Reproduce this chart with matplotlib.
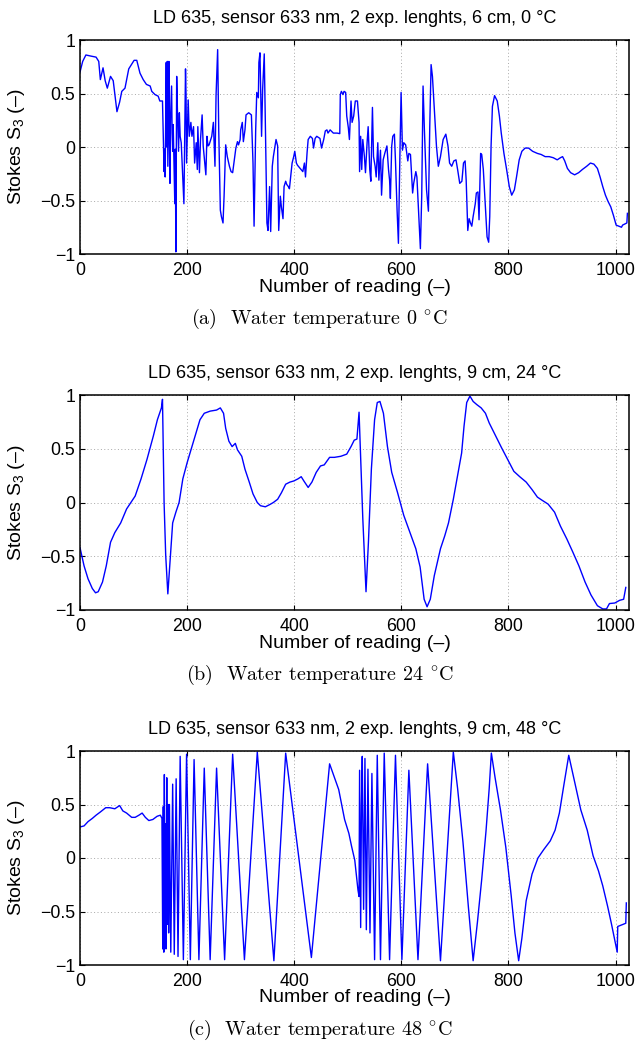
import matplotlib
matplotlib.use("Agg")
import matplotlib.pyplot as plt

# ---------------- data ----------------
x_0C = [0, 5, 11, 20, 30, 35, 38, 43, 47, 51, 57, 62, 66, 69, 74, 78, 84, 91, 101, 106, 112, 118, 124, 131, 134, 140, 146, 149, 154,
        157, 158, 159, 161, 162, 163, 164, 166, 167, 168, 169, 171, 172, 173, 174, 177, 178, 179, 180.5, 182, 184, 185.5, 187, 189,
        192, 194, 197, 198, 199, 202, 204, 207, 209, 212, 214, 217, 219, 220, 223, 225, 228, 230, 233, 235, 237, 239, 241, 244, 246,
        249, 252, 254, 257, 259, 262, 264, 267, 269, 272, 275, 279, 282, 285, 289, 291, 294, 296, 299, 300, 303, 305, 308, 310, 315,
        320, 323, 325, 328, 330, 333, 334, 336, 339, 341, 344, 346, 349, 351, 354, 356, 359, 361, 366, 369, 371, 374, 376, 379, 381,
        384, 386, 389, 391, 394, 396, 399, 401, 404, 406, 411, 416, 419, 421, 424, 426, 430, 434, 436, 439, 442, 448, 451, 455, 458,
        461, 463, 467, 473, 480, 485, 486, 488, 491, 493, 496, 498, 501, 503, 506, 508, 511, 514, 518, 521, 522, 524, 526, 528, 531,
        533, 536, 538, 541, 543, 546, 548, 551, 553, 556, 558, 561, 563, 566, 569, 573, 576, 578, 579.5, 582, 584, 587, 589, 592,
        594.5, 597, 599.5, 602, 604.5, 608, 612, 614, 617, 621, 623, 627, 629, 632, 635.5, 638, 640.5, 643, 647, 650.5, 653, 655.5,
        658, 662, 665.5, 669, 673, 678, 683, 687, 690, 694, 698, 702, 705, 709, 713, 716, 719, 721, 724, 726.5, 729, 731.5, 734, 738,
        740, 743, 745, 748, 750, 753, 756.5, 760, 763, 765, 767.5, 770, 774, 779, 783, 786.5, 791.5, 796.5, 801.5, 806, 811, 815,
        820, 825, 831, 837.5, 845, 854, 861, 868.5, 876, 883.5, 891, 897, 901, 905, 910, 916, 923.5, 931, 938, 946, 953, 959.5, 966,
        971, 976, 981, 986, 991, 996, 1001, 1006, 1011, 1013, 1017, 1021, 1022]
s3_0C = [0.70, 0.80, 0.86, 0.85, 0.84, 0.80, 0.63, 0.74, 0.62, 0.55, 0.66, 0.62, 0.45, 0.33, 0.42, 0.52, 0.55, 0.73, 0.81, 0.81,
         0.69, 0.63, 0.585, 0.57, 0.52, 0.49, 0.475, 0.43, 0.43,
         -0.23, -0.02, -0.28, 0.79, 0.0, 0.80, -0.18, 0.80, 0.04, -0.34, 0.27, 0.57, 0.13, -0.04, 0.21, -0.53, -0.02, -0.98, 0.66,
         0.32, -0.04, 0.32, 0.10, 0.04, -0.31, -0.53, 0.73, 0.48, -0.15, 0.44, 0.10, 0.23, 0.10, 0.19, -0.15, 0.04, -0.21, 0.19,
         -0.24, 0.07, 0.30, 0.01, -0.15, -0.26, 0.10, 0.01, 0.02, 0.07, 0.10, 0.23, -0.18, 0.48, 0.91, 0.16, -0.59, -0.65, -0.71,
         -0.46, 0.02, -0.09, -0.18, -0.23, -0.24, -0.09, -0.01, 0.05, 0.02, 0.07, 0.16, 0.23, 0.05, 0.16, 0.30, 0.32, 0.30, -0.15,
         -0.74, 0.16, 0.51, 0.46, 0.79, 0.88, 0.10, 0.54, 0.87, 0.23, -0.71, -0.78, -0.37, -0.79, -0.18, -0.09, 0.07, 0.01, -0.78,
         -0.46, -0.56, -0.67, -0.37, -0.32, -0.35, -0.37, -0.39, -0.24, -0.15, -0.09, -0.04, -0.15, -0.17, -0.20, -0.23, -0.15,
         -0.28, -0.05, 0.07, 0.10, 0.08, -0.01, 0.08, 0.10, 0.08, -0.01, 0.07, 0.15, 0.16, 0.13, 0.16, 0.13, 0.13, 0.125, 0.49, 0.52,
         0.49, 0.52, 0.51, 0.29, 0.18, 0.07, 0.43, 0.23, 0.29, 0.43, 0.43, 0.23, -0.23, 0.10, -0.21, 0.07, -0.09, -0.24, 0.04, 0.19,
         -0.21, -0.32, 0.37, -0.09, -0.18, -0.28, 0.04, -0.31, -0.03, -0.45, -0.12, -0.06, 0.01, -0.21, -0.31, -0.48, 0.01, 0.10,
         0.12, -0.13, -0.59, -0.90, -0.15, 0.51, -0.03, 0.04, 0.02, -0.13, -0.06, -0.07, -0.43, -0.34, -0.23, -0.28, -0.59, -0.95,
         -0.46, 0.57, 0.16, -0.40, -0.60, 0.19, 0.77, 0.66, 0.32, 0.01, -0.18, -0.09, 0.07, 0.12, 0.01, -0.15, -0.18, -0.13, -0.12,
         -0.21, -0.34, -0.32, -0.15, -0.13, -0.31, -0.78, -0.67, -0.71, -0.74, -0.65, -0.53, -0.43, -0.42, -0.68, -0.06, -0.07,
         -0.21, -0.53, -0.84, -0.89, -0.65, 0.01, 0.38, 0.48, 0.43, 0.29, 0.13, -0.06, -0.21, -0.37, -0.45, -0.40, -0.28, -0.12,
         -0.04, -0.01, -0.01, -0.04, -0.06, -0.07, -0.09, -0.09, -0.10, -0.12, -0.10, -0.09, -0.13, -0.20, -0.24, -0.26, -0.24,
         -0.21, -0.18, -0.15, -0.16, -0.20, -0.28, -0.37, -0.45, -0.51, -0.56, -0.64, -0.73, -0.74, -0.75, -0.73, -0.72, -0.71, -0.62]

x_24C = [0, 7.6, 15, 23, 29, 34, 42, 49, 57, 65, 76, 87, 103, 114, 125, 137, 144.5, 152, 154, 157, 160, 164, 169, 173, 179, 185,
         192, 200, 209, 217, 224, 232, 243, 255, 262, 268, 272, 278, 284, 290, 294, 302, 308, 316, 323, 331, 337, 346, 354, 361,
         369, 376, 384, 392, 399, 407, 413, 418, 426, 433, 441, 449, 456, 466, 475, 487, 498, 506, 512, 517, 521, 528, 534, 538.5,
         544, 550, 555, 560, 566.5, 574, 582, 593, 604.5, 616, 627, 635, 642.5, 648, 654, 661.5, 673, 681, 688, 697, 707, 712.5,
         717, 722, 728, 734, 741, 749, 757, 764, 776, 787, 798.5, 810, 821, 833, 844, 854, 863, 874, 886, 897, 909, 920, 931.5, 943,
         954, 966, 976, 983, 988.5, 998.5, 1007.5, 1015, 1019]
s3_24C = [-0.42, -0.59, -0.71, -0.80, -0.84, -0.83, -0.74, -0.59, -0.37, -0.28, -0.19, -0.06, 0.06, 0.22, 0.40, 0.62, 0.77, 0.88,
          0.96, 0.0, -0.49, -0.85, -0.49, -0.19, -0.09, 0.0, 0.22, 0.37, 0.52, 0.65, 0.77, 0.83, 0.85, 0.86, 0.88, 0.83, 0.69, 0.57,
          0.52, 0.55, 0.49, 0.43, 0.31, 0.19, 0.08, 0.0, -0.03, -0.04, -0.02, 0.0, 0.03, 0.09, 0.17, 0.19, 0.20, 0.22, 0.24, 0.20,
          0.14, 0.19, 0.28, 0.34, 0.35, 0.42, 0.42, 0.43, 0.45, 0.52, 0.58, 0.59, 0.84, -0.15, -0.83, -0.37, 0.31, 0.77, 0.93, 0.94,
          0.83, 0.52, 0.28, 0.09, -0.12, -0.28, -0.43, -0.60, -0.90, -0.97, -0.90, -0.68, -0.43, -0.31, -0.19, 0.03, 0.31, 0.46,
          0.71, 0.93, 0.99, 0.94, 0.91, 0.88, 0.83, 0.74, 0.62, 0.51, 0.40, 0.29, 0.24, 0.19, 0.12, 0.05, 0.02, -0.015, -0.09,
          -0.22, -0.34, -0.46, -0.59, -0.74, -0.86, -0.96, -0.99, -0.99, -0.94, -0.935, -0.91, -0.90, -0.79]

x_48C = [0, 7.6, 15, 23, 30, 38, 48, 55.5, 65, 74, 80, 87, 96.5, 103, 110, 116, 122, 128.5, 136, 144, 150, 153,
         154.5, 155.5, 156.5, 157.5, 158.5, 159.5, 160.5, 162, 163, 164.5, 165.5, 167, 169.5, 173, 176, 179.5, 183, 187, 193,
         199, 206, 213, 222, 232, 243, 255, 270, 285, 307, 331, 362, 384, 432, 466, 483, 494, 502, 507, 513, 519, 521,
         522, 524, 525.5, 527, 529.5, 532, 534.6, 537.6, 541.4, 545, 550, 555, 561, 568, 578, 589, 601, 614, 631, 649, 673,
         697, 705, 715, 725, 734, 742, 750, 758, 764, 768, 775, 785, 795, 805, 812, 819, 825, 833, 844, 855, 866, 878, 887, 895,
         903, 912.5, 924, 935, 947, 958, 968, 976, 985, 992, 1003, 1004, 1019, 1020]
s3_48C = [0.29, 0.30, 0.34, 0.37, 0.40, 0.43, 0.47, 0.47, 0.46, 0.49, 0.44, 0.42, 0.38, 0.38, 0.40, 0.42, 0.38, 0.35, 0.36, 0.39,
          0.40, 0.37,
          -0.85, 0.48, -0.88, 0.78, -0.60, 0.32, -0.85, 0.75, -0.62, 0.50, -0.70, 0.50, -0.88, 0.69, -0.90, 0.74, -0.92, 0.95, -0.95,
          0.97, -0.95, 0.92, -0.95, 0.84, -0.95, 0.84, -0.95, 0.97, -0.95, 0.99, -0.96, 0.98, -0.93, 0.88, 0.64, 0.36, 0.23, 0.11,
          -0.02, -0.30, -0.36,
          0.82, -0.65, 0.50, 0.95, -0.48, 0.93, -0.67, 0.83, -0.70, 0.79, -0.95, 0.96, -0.95, 0.98, -0.95, 0.96, -0.95, 0.82, -0.95,
          0.88, -0.96, 0.99, 0.65, 0.15, -0.45, -0.96, -0.60, -0.20, 0.25, 0.65, 0.98, 0.75, 0.45, 0.10, -0.35, -0.70, -0.96, -0.75,
          -0.40, -0.15, 0.0, 0.08, 0.16, 0.26, 0.42, 0.67, 0.96, 0.70, 0.45, 0.26, 0.02, -0.12, -0.26, -0.45, -0.61, -0.88, -0.64,
          -0.61, -0.42]

titles = ["LD 635, sensor 633 nm, 2 exp. lenghts, 6 cm, 0 °C",
          "LD 635, sensor 633 nm, 2 exp. lenghts, 9 cm, 24 °C",
          "LD 635, sensor 633 nm, 2 exp. lenghts, 9 cm, 48 °C"]
captions = [r"(a)  Water temperature 0 $^{\circ}$C",
            r"(b)  Water temperature 24 $^{\circ}$C",
            r"(c)  Water temperature 48 $^{\circ}$C"]
xticks = [0, 200, 400, 600, 800, 1000]
yticks = [-1, -0.5, 0, 0.5, 1]
ytick_labels = ["\u22121", "\u22120.5", "0", "0.5", "1"]
xlabel_text = "Number of reading (\u2013)"
ylabel_text = "Stokes S$_\\mathrm{3}$ (\u2013)"

# ---------------- style ----------------
plt.rcParams['font.family'] = ['Liberation Sans', 'DejaVu Sans']
plt.rcParams['mathtext.fontset'] = 'custom'
plt.rcParams['mathtext.rm'] = 'Liberation Sans'
plt.rcParams['mathtext.it'] = 'Liberation Sans:italic'

W, H = 639, 1046
fig = plt.figure(figsize=(W / 100, H / 100), dpi=100)

panels = [(x_0C, s3_0C, 40, 254), (x_24C, s3_24C, 395, 610), (x_48C, s3_48C, 751, 965)]
ax_left, ax_right = 80, 629

for i, (xs, ys, top, bot) in enumerate(panels):
    ax = fig.add_axes([ax_left / W, 1 - bot / H, (ax_right - ax_left) / W, (bot - top) / H])
    ax.plot(xs, ys, color='#0000ff', lw=1.0)
    ax.set_xlim(0, 1025)
    ax.set_ylim(-1, 1)
    ax.set_xticks(xticks)
    ax.set_yticks(yticks)
    ax.set_yticklabels(ytick_labels)
    ax.tick_params(direction='in', length=3.6, width=0.8, top=True, right=True,
                   labelsize=12.8, colors='black')
    ax.tick_params(axis='x', pad=5.5)
    ax.tick_params(axis='y', pad=3.5)
    for s in ax.spines.values():
        s.set_linewidth(1.1)
    ax.grid(True, color='#a8a8a8', linestyle=(0, (1, 2.5)), lw=0.7)
    ax.set_axisbelow(True)
    h = bot - top
    ax.text(0.5, 1 + 22 / h, titles[i], transform=ax.transAxes, ha='center', va='center', fontsize=13)
    ax.set_xlabel(xlabel_text, fontsize=14)
    ax.xaxis.set_label_coords(0.5, -33 / h)
    ax.xaxis.label.set_va('center')
    ax.set_ylabel(ylabel_text, fontsize=14)
    ax.yaxis.set_label_coords((17 - ax_left) / (ax_right - ax_left), 0.5)
    ax.yaxis.label.set_va('center')
    fig.text(0.5, 1 - (bot + 65) / H, captions[i], ha='center', va='center', fontsize=14.5,
             family='cmr10', math_fontfamily='cm')

fig.savefig("out.png", dpi=100)
